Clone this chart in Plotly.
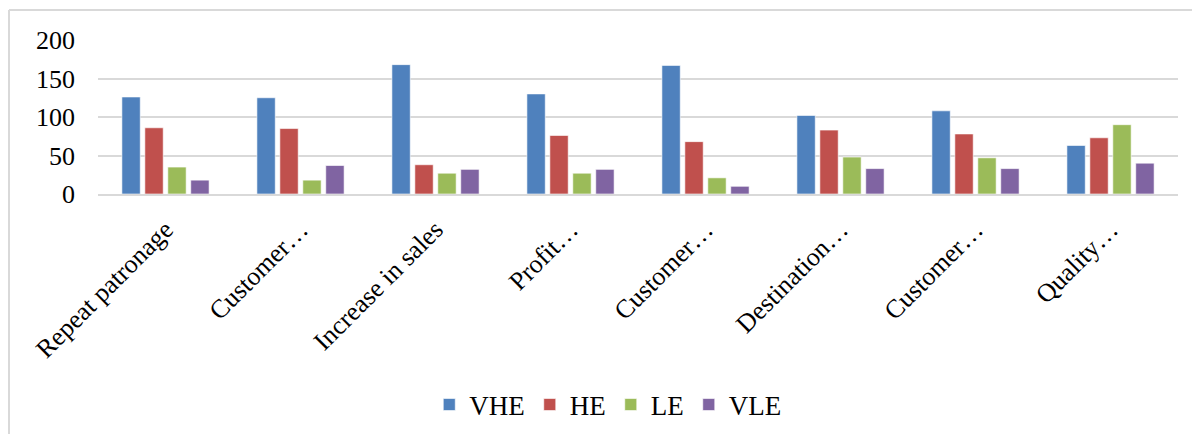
import plotly.graph_objects as go

categories = [
    "Repeat patronage", "Customer…", "Increase in sales", "Profit…",
    "Customer…", "Destination…", "Customer…", "Quality…",
]
series_names = ["VHE", "HE", "LE", "VLE"]
vhe = [126, 125, 168, 130, 167, 102, 108, 63]
he = [86, 85, 38, 76, 68, 83, 78, 73]
le = [35, 18, 27, 27, 21, 48, 47, 90]
vle = [18, 37, 32, 32, 10, 33, 33, 40]
y_ticks = [0, 50, 100, 150, 200]

colors = ["#4F81BD", "#C0504D", "#9BBB59", "#8064A2"]
values = [vhe, he, le, vle]

# Positional x so duplicate category labels stay as separate slots
x_pos = list(range(len(categories)))

fig = go.Figure()
for name, vals, col in zip(series_names, values, colors):
    fig.add_trace(go.Bar(
        x=x_pos, y=vals, name=name,
        marker=dict(color=col, line=dict(color="rgba(255,255,255,0.6)", width=1)),
    ))

font_family = "Liberation Serif, Times New Roman, serif"

fig.update_layout(
    width=1192, height=434,
    margin=dict(l=98, r=14, t=40, b=240, autoexpand=False),
    paper_bgcolor="white", plot_bgcolor="white",
    barmode="group", bargap=0.32, bargroupgap=0.2,
    font=dict(family=font_family, size=26, color="black"),
    showlegend=True,
    legend=dict(
        orientation="h", x=0.472, xanchor="center", y=-1.37, yanchor="middle",
        font=dict(size=27), itemwidth=30, traceorder="normal",
    ),
    xaxis=dict(
        tickmode="array", tickvals=x_pos, ticktext=categories,
        tickangle=-45, range=[-0.5, len(categories) - 0.5],
        showgrid=False, showline=True, linecolor="#D9D9D9", linewidth=2,
        ticks="", tickfont=dict(size=26), ticklabelstandoff=8,
        automargin=False,
    ),
    yaxis=dict(
        range=[0, 200], tickvals=y_ticks, showgrid=True,
        gridcolor="#D9D9D9", gridwidth=2, zeroline=False,
        showline=False, ticks="", tickfont=dict(size=26),
        ticklabelstandoff=22, automargin=False,
    ),
)

# Chart frame (top and left edges)
fig.add_shape(type="line", xref="paper", yref="paper",
              x0=-(98 - 9) / 1080, x1=1.2, y0=1 + 30 / 154, y1=1 + 30 / 154,
              line=dict(color="#D9D9D9", width=2))
fig.add_shape(type="line", xref="paper", yref="paper",
              x0=-(98 - 9) / 1080, x1=-(98 - 9) / 1080, y0=1 + 30 / 154, y1=-2,
              line=dict(color="#D9D9D9", width=2))

fig.write_html("out.html")
